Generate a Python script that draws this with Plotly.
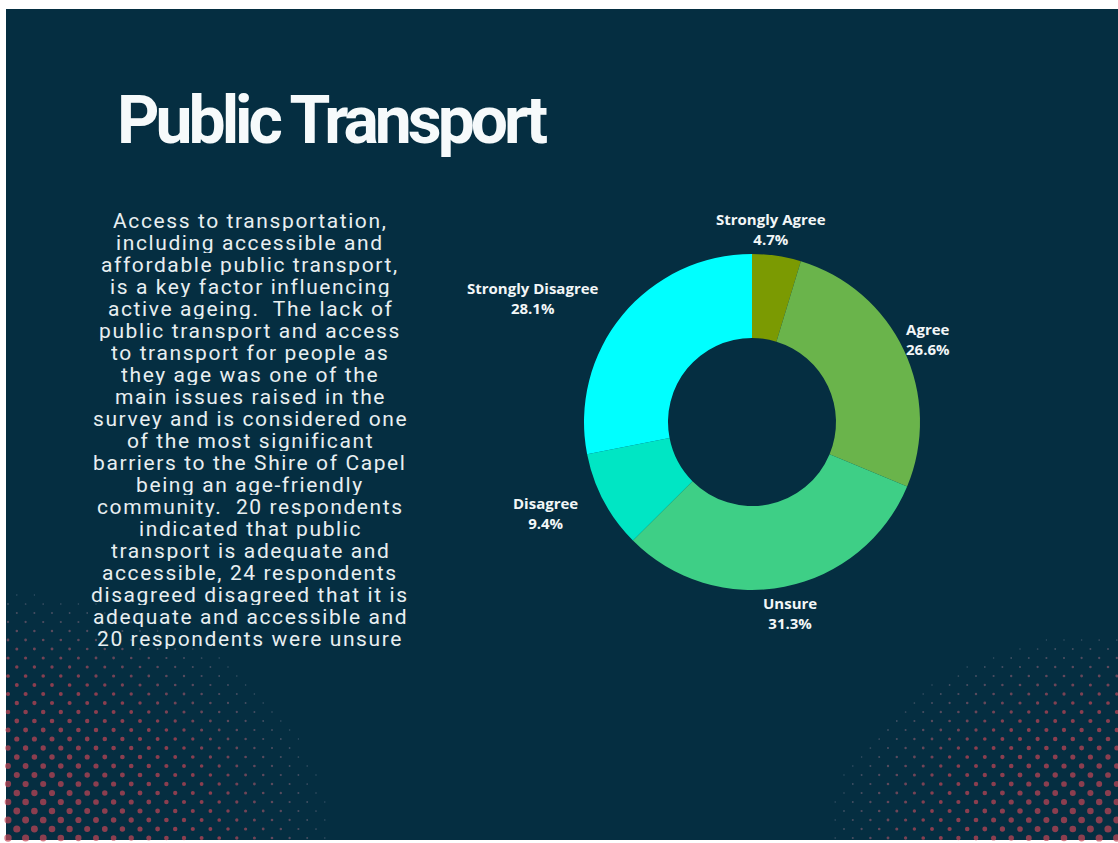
import numpy as np
import plotly.graph_objects as go

W, H = 1118, 843

# Survey responses (percent of respondents)
categories = ["Strongly Agree", "Agree", "Unsure", "Disagree", "Strongly Disagree"]
percentages = [4.7, 26.6, 31.3, 9.4, 28.1]
slice_colors = ["#7b9a02", "#6ab44b", "#3ecf86", "#00e6c4", "#00ffff"]

title_text = "Public Transport"
body_lines = [
    "Access to transportation,",
    "including accessible and",
    "affordable public transport,",
    "is a key factor influencing",
    "active ageing.  The lack of",
    "public transport and access",
    "to transport for people as",
    "they age was one of the",
    "main issues raised in the",
    "survey and is considered one",
    "of the most significant",
    "barriers to the Shire of Capel",
    "being an age-friendly",
    "community.  20 respondents",
    "indicated that public",
    "transport is adequate and",
    "accessible, 24 respondents",
    "disagreed disagreed that it is",
    "adequate and accessible and",
    "20 respondents were unsure",
]

BG = "#052e41"
DOT_NEAR = np.array([196, 70, 86])
DOT_FAR = np.array([74, 100, 120])

fig = go.Figure()


# Halftone dot decoration fading out from a corner
def halftone(cx, cy, ax, ay, max_d):
    xs, ys, ss, cs = [], [], [], []
    step = 8.8
    for r in range(0, 40):
        y = 838 - r * 9.0
        off = (r % 2) * step
        for c in range(-2, 70):
            x = 8 + c * 2 * step + off
            d = np.hypot((x - cx) / ax, (y - cy) / ay)
            f = 1 - d
            if f <= 0 or x < 7 or x > W - 1:
                continue
            ss.append(1.4 + max_d * f ** 0.9)
            col = DOT_FAR + (DOT_NEAR - DOT_FAR) * min(1.0, f * 3.0)
            cs.append("rgb(%d,%d,%d)" % tuple(col.astype(int)))
            xs.append(x)
            ys.append(y)
    return xs, ys, ss, cs


for cx, cy, ax, ay in [(0, H, 330, 250), (W, H, 290, 210)]:
    xs, ys, ss, cs = halftone(cx, cy, ax, ay, 6.2)
    fig.add_trace(go.Scatter(
        x=xs, y=ys, mode="markers", hoverinfo="skip", showlegend=False,
        marker=dict(size=ss, color=cs, line=dict(width=0)),
        xaxis="x", yaxis="y",
    ))

# Donut chart
cx_px, cy_px, rad = 752, 422, 168
fig.add_trace(go.Pie(
    labels=categories,
    values=percentages,
    marker=dict(colors=slice_colors, line=dict(width=0)),
    hole=0.5,
    sort=False,
    direction="clockwise",
    rotation=0,
    textinfo="none",
    hoverinfo="label+value",
    showlegend=False,
    domain=dict(
        x=[(cx_px - rad) / W, (cx_px + rad) / W],
        y=[1 - (cy_px + rad) / H, 1 - (cy_px - rad) / H],
    ),
))

annotations = [dict(
    text=f'<span style="letter-spacing:-4px">{title_text}</span>',
    x=115 / W, y=1 - 121 / H, xref="paper", yref="paper",
    xanchor="left", yanchor="middle", showarrow=False,
    font=dict(family="Roboto", size=66, color="#f6fafb", weight=700),
)]

# Slice labels placed outside the ring at each slice's mid-angle
total = sum(percentages)
start = 0.0
label_r = 195
for cat, pct in zip(categories, percentages):
    mid = np.radians((start + pct / 2) / total * 360)
    start += pct
    sx, cy_ = np.sin(mid), np.cos(mid)
    annotations.append(dict(
        text=f"<b>{cat}</b><br><b>{pct:.1f}%</b>",
        x=(cx_px + label_r * sx) / W, y=1 - (cy_px - label_r * cy_) / H,
        xref="paper", yref="paper",
        xanchor="right" if sx < -0.3 else "center", yanchor="middle",
        xshift=-10 if abs(sx) < 0.3 and cy_ > 0 else 0,
        showarrow=False,
        font=dict(family="Open Sans", size=15, color="#f2f6f7"),
    ))

line_top, line_bot = 221, 638
gap = (line_bot - line_top) / (len(body_lines) - 1)
for i, line in enumerate(body_lines):
    annotations.append(dict(
        text=f'<span style="letter-spacing:1.6px">{line}</span>',
        x=250 / W, y=1 - (line_top + i * gap) / H,
        xref="paper", yref="paper", xanchor="center", yanchor="middle",
        height=21, showarrow=False,
        font=dict(family="Roboto", size=21, color="#e8eff1"),
    ))

fig.update_layout(
    width=W, height=H,
    margin=dict(l=0, r=0, t=0, b=0),
    paper_bgcolor="white",
    plot_bgcolor="rgba(0,0,0,0)",
    xaxis=dict(range=[0, W], visible=False, fixedrange=True),
    yaxis=dict(range=[H, 0], visible=False, fixedrange=True),
    shapes=[dict(type="rect", xref="paper", yref="paper", x0=6 / W, x1=1,
                 y0=3 / H, y1=1 - 9 / H, fillcolor=BG, line=dict(width=0),
                 layer="below")],
    annotations=annotations,
)

fig.write_html("out.html")
